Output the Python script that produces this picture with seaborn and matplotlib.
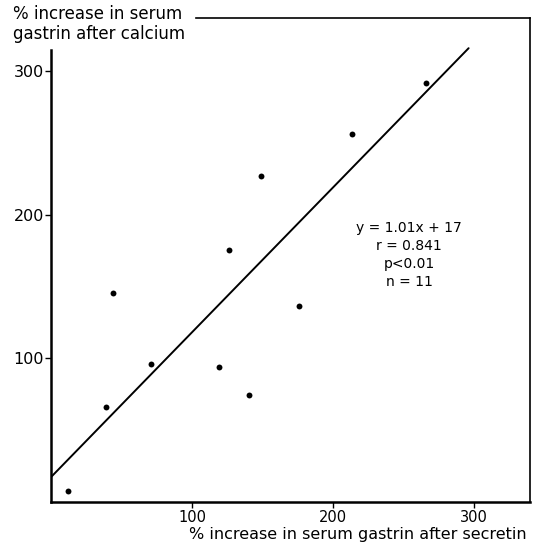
import matplotlib
matplotlib.use("Agg")
import matplotlib.pyplot as plt
import seaborn as sns
import numpy as np
import pandas as pd

# Data
secretin = [266, 213, 149, 126, 44, 176, 71, 119, 140, 39, 12]
calcium = [292, 256, 227, 175, 145, 136, 96, 94, 74, 66, 7]
slope = 1.01
intercept = 17
line_x = [0, 296]
xticks = [100, 200, 300]
yticks = [100, 200, 300]
stats_text = "y = 1.01x + 17\nr = 0.841\np<0.01\nn = 11"
ylabel_text = "% increase in serum\ngastrin after calcium"
xlabel_text = "% increase in serum gastrin after secretin"

sns.set_style("white")
plt.rcParams['font.family'] = ['DejaVu Sans']

fig = plt.figure(figsize=(5.34, 5.44), dpi=100)
ax = fig.add_axes([51 / 534, 1 - 501.5 / 544, (530 - 51) / 534, (501.5 - 18) / 544])

df = pd.DataFrame({"secretin": secretin, "calcium": calcium})
sns.scatterplot(data=df, x="secretin", y="calcium", ax=ax, color="black", s=18,
                edgecolor="black", linewidth=0)

line_df = pd.DataFrame({"x": line_x, "y": [slope * v + intercept for v in line_x]})
sns.lineplot(data=line_df, x="x", y="y", ax=ax, color="black", linewidth=1.4)

ax.set_xlim(0, 339.5)
ax.set_ylim(0, 337)
ax.set_xticks(xticks)
ax.set_yticks(yticks)
ax.set_xticklabels([str(t) for t in xticks], fontsize=10.5)
ax.set_yticklabels([str(t) for t in yticks], fontsize=11.5)
ax.tick_params(axis="both", direction="out", length=4, width=1, color="black",
               labelcolor="black", bottom=True, left=True)
ax.tick_params(axis="x", pad=2)
ax.tick_params(axis="y", pad=1)
ax.set_xlabel("")
ax.set_ylabel("")

for name, sp in ax.spines.items():
    sp.set_color("black")
    sp.set_visible(True)
ax.spines["left"].set_linewidth(1.8)
ax.spines["bottom"].set_linewidth(1.8)
ax.spines["right"].set_linewidth(1.2)
ax.spines["top"].set_linewidth(1.2)
ax.spines["left"].set_bounds(0, 315)
ax.spines["top"].set_bounds(103, 339.5)

ax.text(254, 172, stats_text, ha="center", va="center", fontsize=10,
        linespacing=1.35, color="black")

fig.text(13 / 534, 1 - 24 / 544, ylabel_text, ha="left", va="center",
         fontsize=12, linespacing=1.15, color="black")
fig.text(527 / 534, 1 - 535 / 544, xlabel_text, ha="right", va="center",
         fontsize=11.5, color="black")

fig.savefig("out.png", dpi=100)
